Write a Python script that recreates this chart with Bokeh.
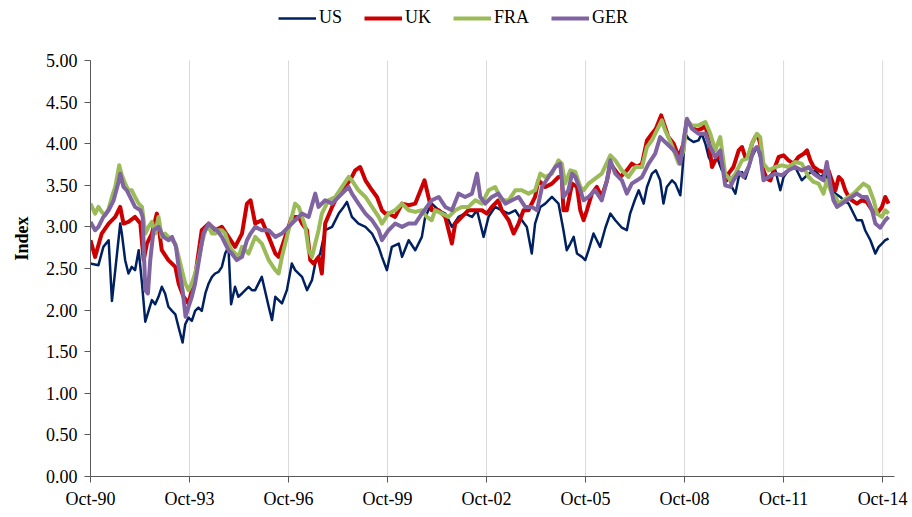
from bokeh.plotting import figure
from bokeh.models import (Range1d, FixedTicker, LinearAxis, NumeralTickFormatter,
                          Legend, LegendItem)
from bokeh.embed import file_html
from bokeh.resources import INLINE

# readings (decimal year, index value) for each series
us_t = [1990.74, 1990.99, 1991.14, 1991.30, 1991.40, 1991.50, 1991.65, 1991.70, 1991.80, 1991.90,
        1992.00, 1992.10, 1992.21, 1992.31, 1992.41, 1992.51, 1992.61, 1992.71, 1992.81, 1992.91,
        1993.01, 1993.11, 1993.22, 1993.32, 1993.42, 1993.54, 1993.62, 1993.72, 1993.82, 1993.92,
        1994.02, 1994.12, 1994.23, 1994.33, 1994.43, 1994.53, 1994.63, 1994.73, 1994.83, 1994.93,
        1995.01, 1995.13, 1995.23, 1995.34, 1995.44, 1995.54, 1995.64, 1995.74, 1995.94, 1996.15,
        1996.25, 1996.35, 1996.55, 1996.70, 1996.85, 1996.95, 1997.16, 1997.31, 1997.46, 1997.56,
        1997.71, 1997.86, 1998.07, 1998.27, 1998.42, 1998.52, 1998.67, 1998.87, 1999.08, 1999.28,
        1999.48, 1999.58, 1999.73, 1999.88, 2000.09, 2000.19, 2000.39, 2000.59, 2000.79, 2000.89,
        2001.09, 2001.30, 2001.50, 2001.70, 2001.90, 2002.10, 2002.31, 2002.46, 2002.56, 2002.66,
        2002.81, 2003.01, 2003.21, 2003.42, 2003.62, 2003.82, 2003.97, 2004.12, 2004.22, 2004.38,
        2004.53, 2004.73, 2004.93, 2005.08, 2005.18, 2005.29, 2005.39, 2005.49, 2005.64, 2005.74,
        2005.84, 2005.99, 2006.09, 2006.19, 2006.35, 2006.50, 2006.65, 2006.85, 2007.00, 2007.10,
        2007.24, 2007.36, 2007.51, 2007.61, 2007.76, 2007.88, 2008.01, 2008.11, 2008.21, 2008.37,
        2008.47, 2008.62, 2008.67, 2008.77, 2008.87, 2009.02, 2009.17, 2009.27, 2009.38, 2009.48,
        2009.58, 2009.73, 2009.88, 2009.98, 2010.08, 2010.18, 2010.29, 2010.39, 2010.49, 2010.59,
        2010.69, 2010.79, 2010.94, 2011.04, 2011.14, 2011.30, 2011.50, 2011.65, 2011.75, 2011.90,
        2012.10, 2012.30, 2012.51, 2012.71, 2012.86, 2013.01, 2013.16, 2013.32, 2013.47, 2013.57,
        2013.72, 2013.82, 2013.97, 2014.12, 2014.22, 2014.38, 2014.53, 2014.63, 2014.73, 2014.83,
        2014.93]
us_v = [2.56, 2.54, 2.76, 2.84, 2.11, 2.48, 3.04, 2.92, 2.60, 2.44,
        2.52, 2.48, 2.72, 2.32, 1.86, 1.99, 2.12, 2.07, 2.16, 2.28,
        2.20, 2.04, 1.99, 1.95, 1.79, 1.61, 1.83, 1.91, 1.87, 1.99,
        2.03, 1.99, 2.20, 2.32, 2.40, 2.44, 2.46, 2.52, 2.68, 2.76,
        2.07, 2.28, 2.16, 2.20, 2.24, 2.28, 2.24, 2.24, 2.40, 2.04,
        1.88, 2.16, 2.08, 2.24, 2.56, 2.48, 2.40, 2.24, 2.36, 2.56,
        2.68, 2.96, 3.00, 3.16, 3.24, 3.30, 3.12, 3.04, 3.00, 2.92,
        2.76, 2.64, 2.48, 2.76, 2.80, 2.64, 2.84, 2.72, 2.88, 3.12,
        3.28, 3.20, 3.16, 3.00, 3.12, 3.16, 3.12, 3.20, 3.04, 2.88,
        3.12, 3.24, 3.20, 3.16, 3.20, 3.08, 3.00, 2.68, 3.04, 3.24,
        3.28, 3.36, 3.28, 2.96, 2.72, 2.80, 2.88, 2.68, 2.64, 2.60,
        2.72, 2.92, 2.84, 2.76, 2.99, 3.16, 3.08, 2.99, 2.96, 3.16,
        3.32, 3.44, 3.28, 3.48, 3.64, 3.68, 3.56, 3.28, 3.48, 3.56,
        3.52, 3.38, 3.60, 4.12, 4.06, 4.02, 4.04, 4.12, 4.00, 3.84,
        3.76, 3.84, 3.68, 3.64, 3.64, 3.48, 3.40, 3.60, 3.66, 3.58,
        3.70, 3.84, 3.96, 3.84, 3.56, 3.60, 3.68, 3.44, 3.60, 3.68,
        3.72, 3.56, 3.64, 3.68, 3.60, 3.64, 3.52, 3.40, 3.36, 3.32,
        3.28, 3.20, 3.08, 3.08, 2.96, 2.84, 2.68, 2.76, 2.80, 2.84,
        2.86]

uk_t = [1990.75, 1990.89, 1991.09, 1991.30, 1991.50, 1991.65, 1991.75, 1991.90, 1992.10, 1992.26,
        1992.36, 1992.46, 1992.61, 1992.76, 1992.91, 1993.11, 1993.32, 1993.42, 1993.57, 1993.72,
        1993.92, 1994.12, 1994.33, 1994.53, 1994.73, 1994.93, 1995.13, 1995.34, 1995.49, 1995.60,
        1995.74, 1995.94, 1996.15, 1996.35, 1996.45, 1996.55, 1996.65, 1996.85, 1997.06, 1997.16,
        1997.31, 1997.41, 1997.51, 1997.66, 1997.76, 1997.86, 1998.07, 1998.27, 1998.47, 1998.67,
        1998.77, 1998.92, 1999.08, 1999.28, 1999.43, 1999.58, 1999.68, 1999.78, 1999.98, 2000.19,
        2000.39, 2000.59, 2000.79, 2000.87, 2000.99, 2001.09, 2001.30, 2001.50, 2001.65, 2001.70,
        2001.80, 2002.00, 2002.20, 2002.41, 2002.61, 2002.76, 2002.91, 2003.11, 2003.21, 2003.42,
        2003.57, 2003.72, 2003.87, 2004.02, 2004.22, 2004.32, 2004.53, 2004.73, 2004.93, 2005.03,
        2005.08, 2005.18, 2005.34, 2005.49, 2005.59, 2005.69, 2005.79, 2005.94, 2006.09, 2006.24,
        2006.40, 2006.50, 2006.65, 2006.80, 2007.00, 2007.15, 2007.31, 2007.46, 2007.61, 2007.76,
        2007.88, 2008.04, 2008.16, 2008.26, 2008.42, 2008.57, 2008.72, 2008.82, 2008.97, 2009.12,
        2009.27, 2009.38, 2009.48, 2009.58, 2009.68, 2009.83, 2009.93, 2010.03, 2010.08, 2010.23,
        2010.39, 2010.49, 2010.59, 2010.69, 2010.79, 2010.89, 2010.97, 2011.04, 2011.14, 2011.24,
        2011.35, 2011.45, 2011.60, 2011.75, 2011.90, 2012.05, 2012.20, 2012.36, 2012.46, 2012.56,
        2012.66, 2012.81, 2012.96, 2013.11, 2013.21, 2013.32, 2013.42, 2013.52, 2013.62, 2013.72,
        2013.82, 2013.97, 2014.12, 2014.27, 2014.43, 2014.58, 2014.73, 2014.83, 2014.93]
uk_v = [2.84, 2.64, 2.92, 3.04, 3.12, 3.24, 3.04, 3.06, 3.12, 3.04,
        2.60, 2.80, 2.92, 3.16, 2.72, 2.60, 2.52, 2.32, 2.16, 2.08,
        2.40, 2.96, 3.04, 2.96, 3.00, 2.88, 2.76, 2.92, 3.28, 3.32,
        3.04, 3.08, 2.88, 2.68, 2.64, 2.76, 2.88, 3.12, 3.12, 3.04,
        2.96, 2.60, 2.56, 2.64, 2.44, 3.04, 3.24, 3.40, 3.48, 3.60,
        3.68, 3.72, 3.56, 3.44, 3.36, 3.20, 3.16, 3.16, 3.12, 3.28,
        3.26, 3.28, 3.48, 3.56, 3.36, 3.20, 3.20, 3.12, 2.88, 2.80,
        3.04, 3.12, 3.20, 3.20, 3.20, 3.16, 3.24, 3.32, 3.20, 3.08,
        2.92, 3.04, 3.20, 3.20, 3.36, 3.56, 3.48, 3.52, 3.60, 3.60,
        3.20, 3.20, 3.52, 3.48, 3.20, 3.08, 3.20, 3.40, 3.48, 3.36,
        3.56, 3.76, 3.68, 3.60, 3.68, 3.76, 3.72, 3.76, 4.04, 4.12,
        4.18, 4.34, 4.20, 4.08, 4.00, 3.84, 4.00, 4.28, 4.20, 4.16,
        4.18, 4.22, 4.04, 3.72, 3.80, 3.88, 3.68, 3.56, 3.64, 3.72,
        3.92, 3.96, 3.84, 3.84, 4.00, 4.08, 4.10, 4.00, 3.68, 3.58,
        3.56, 3.68, 3.84, 3.86, 3.80, 3.76, 3.84, 3.88, 3.92, 3.80,
        3.72, 3.68, 3.66, 3.68, 3.56, 3.44, 3.60, 3.56, 3.44, 3.36,
        3.32, 3.28, 3.32, 3.30, 3.20, 3.16, 3.24, 3.36, 3.28]

fra_t = [1990.75, 1990.89, 1990.99, 1991.09, 1991.20, 1991.30, 1991.40, 1991.50, 1991.62, 1991.70,
         1991.80, 1991.90, 1992.00, 1992.10, 1992.21, 1992.31, 1992.41, 1992.51, 1992.61, 1992.71,
         1992.81, 1992.91, 1993.01, 1993.11, 1993.22, 1993.32, 1993.42, 1993.52, 1993.62, 1993.72,
         1993.82, 1993.92, 1994.02, 1994.12, 1994.23, 1994.33, 1994.43, 1994.53, 1994.63, 1994.73,
         1994.83, 1994.93, 1995.03, 1995.13, 1995.23, 1995.34, 1995.44, 1995.54, 1995.74, 1995.94,
         1996.15, 1996.35, 1996.45, 1996.55, 1996.75, 1996.95, 1997.06, 1997.26, 1997.36, 1997.46,
         1997.56, 1997.66, 1997.76, 1997.96, 1998.17, 1998.37, 1998.57, 1998.67, 1998.87, 1999.08,
         1999.28, 1999.48, 1999.58, 1999.78, 1999.98, 2000.19, 2000.39, 2000.59, 2000.79, 2000.94,
         2001.09, 2001.19, 2001.40, 2001.60, 2001.80, 2002.00, 2002.20, 2002.41, 2002.61, 2002.81,
         2003.01, 2003.21, 2003.42, 2003.62, 2003.82, 2004.02, 2004.22, 2004.38, 2004.53, 2004.73,
         2004.93, 2005.03, 2005.13, 2005.29, 2005.44, 2005.59, 2005.69, 2005.84, 2006.04, 2006.24,
         2006.50, 2006.65, 2006.85, 2007.05, 2007.26, 2007.46, 2007.61, 2007.76, 2007.91, 2008.06,
         2008.16, 2008.26, 2008.42, 2008.57, 2008.72, 2008.82, 2008.97, 2009.17, 2009.38, 2009.53,
         2009.68, 2009.83, 2009.98, 2010.14, 2010.29, 2010.49, 2010.64, 2010.79, 2010.94, 2011.04,
         2011.14, 2011.30, 2011.50, 2011.70, 2011.90, 2012.10, 2012.30, 2012.51, 2012.66, 2012.81,
         2012.96, 2013.06, 2013.21, 2013.32, 2013.42, 2013.57, 2013.72, 2013.87, 2014.02, 2014.17,
         2014.33, 2014.48, 2014.58, 2014.73, 2014.83, 2014.93]
fra_v = [3.28, 3.16, 3.24, 3.18, 3.14, 3.22, 3.36, 3.48, 3.74, 3.62,
         3.52, 3.44, 3.44, 3.36, 3.28, 3.24, 2.92, 3.00, 3.06, 2.92,
         3.12, 2.88, 2.92, 2.88, 2.84, 2.80, 2.64, 2.48, 2.32, 2.24,
         2.32, 2.44, 2.60, 2.80, 2.96, 3.00, 2.92, 2.92, 2.96, 2.96,
         2.92, 2.80, 2.72, 2.68, 2.64, 2.76, 2.72, 2.68, 2.88, 2.80,
         2.60, 2.48, 2.44, 2.64, 2.96, 3.28, 3.24, 3.00, 2.72, 2.64,
         2.80, 2.96, 3.16, 3.32, 3.36, 3.48, 3.60, 3.56, 3.44, 3.36,
         3.24, 3.12, 3.04, 3.16, 3.20, 3.28, 3.20, 3.18, 3.20, 3.12,
         3.08, 3.20, 3.16, 3.12, 3.20, 3.24, 3.24, 3.32, 3.28, 3.44,
         3.48, 3.32, 3.32, 3.44, 3.44, 3.40, 3.44, 3.64, 3.60, 3.64,
         3.80, 3.76, 3.52, 3.68, 3.66, 3.48, 3.44, 3.52, 3.58, 3.64,
         3.86, 3.80, 3.68, 3.60, 3.72, 3.72, 3.96, 4.04, 4.16, 4.28,
         4.16, 4.08, 3.92, 3.76, 3.92, 4.28, 4.22, 4.22, 4.26, 4.12,
         3.92, 4.08, 3.64, 3.56, 3.64, 3.80, 3.82, 4.00, 4.12, 4.08,
         3.76, 3.68, 3.72, 3.74, 3.72, 3.78, 3.76, 3.60, 3.54, 3.52,
         3.40, 3.56, 3.40, 3.36, 3.28, 3.32, 3.36, 3.40, 3.46, 3.52,
         3.48, 3.32, 3.16, 3.12, 3.20, 3.16]

ger_t = [1990.75, 1990.89, 1990.99, 1991.14, 1991.30, 1991.45, 1991.60, 1991.65, 1991.75, 1991.85,
         1991.95, 1992.10, 1992.26, 1992.33, 1992.41, 1992.49, 1992.56, 1992.66, 1992.81, 1992.96,
         1993.11, 1993.22, 1993.34, 1993.42, 1993.54, 1993.63, 1993.72, 1993.82, 1993.92, 1994.02,
         1994.17, 1994.33, 1994.43, 1994.58, 1994.73, 1994.83, 1994.93, 1995.03, 1995.18, 1995.34,
         1995.49, 1995.60, 1995.74, 1995.94, 1996.15, 1996.35, 1996.55, 1996.75, 1996.95, 1997.16,
         1997.36, 1997.56, 1997.66, 1997.86, 1998.07, 1998.27, 1998.47, 1998.57, 1998.67, 1998.87,
         1999.08, 1999.28, 1999.48, 1999.58, 1999.78, 1999.98, 2000.19, 2000.39, 2000.59, 2000.79,
         2000.94, 2001.09, 2001.30, 2001.50, 2001.70, 2001.90, 2002.10, 2002.31, 2002.46, 2002.56,
         2002.71, 2002.91, 2003.11, 2003.32, 2003.52, 2003.72, 2003.92, 2004.12, 2004.28, 2004.43,
         2004.63, 2004.83, 2004.98, 2005.08, 2005.23, 2005.34, 2005.44, 2005.59, 2005.69, 2005.84,
         2006.04, 2006.24, 2006.40, 2006.50, 2006.65, 2006.85, 2007.00, 2007.15, 2007.31, 2007.46,
         2007.66, 2007.86, 2008.01, 2008.16, 2008.32, 2008.47, 2008.62, 2008.72, 2008.82, 2008.97,
         2009.17, 2009.38, 2009.53, 2009.68, 2009.83, 2009.98, 2010.14, 2010.23, 2010.39, 2010.54,
         2010.69, 2010.84, 2010.94, 2011.04, 2011.14, 2011.30, 2011.50, 2011.70, 2011.90, 2012.10,
         2012.30, 2012.51, 2012.66, 2012.81, 2012.96, 2013.06, 2013.16, 2013.26, 2013.37, 2013.52,
         2013.67, 2013.82, 2013.97, 2014.12, 2014.27, 2014.43, 2014.53, 2014.68, 2014.83, 2014.93]
ger_v = [3.06, 2.96, 3.00, 3.12, 3.20, 3.32, 3.54, 3.64, 3.48, 3.44,
         3.36, 3.24, 3.20, 3.12, 2.24, 2.20, 2.60, 2.96, 3.00, 2.88,
         2.84, 2.88, 2.76, 2.52, 2.24, 1.92, 2.04, 2.16, 2.32, 2.56,
         2.92, 3.04, 3.00, 2.96, 2.88, 2.80, 2.72, 2.68, 2.60, 2.64,
         2.84, 2.92, 3.00, 2.96, 2.96, 2.88, 2.92, 3.00, 3.08, 3.16,
         3.12, 3.40, 3.24, 3.32, 3.28, 3.36, 3.44, 3.48, 3.40, 3.28,
         3.16, 3.08, 2.96, 2.84, 2.96, 3.04, 3.00, 3.04, 3.04, 3.16,
         3.24, 3.32, 3.36, 3.24, 3.20, 3.40, 3.36, 3.40, 3.64, 3.36,
         3.28, 3.36, 3.40, 3.28, 3.32, 3.36, 3.24, 3.24, 3.20, 3.48,
         3.60, 3.72, 3.76, 3.36, 3.44, 3.64, 3.60, 3.44, 3.32, 3.36,
         3.44, 3.32, 3.56, 3.80, 3.64, 3.56, 3.40, 3.52, 3.56, 3.60,
         3.76, 3.88, 4.08, 4.02, 3.96, 3.90, 3.76, 4.04, 4.30, 4.18,
         4.12, 4.12, 3.96, 3.84, 3.92, 3.50, 3.48, 3.56, 3.66, 3.60,
         3.72, 3.92, 3.96, 3.88, 3.56, 3.60, 3.64, 3.62, 3.68, 3.72,
         3.68, 3.72, 3.64, 3.60, 3.56, 3.78, 3.52, 3.32, 3.24, 3.28,
         3.32, 3.36, 3.40, 3.36, 3.36, 3.20, 3.04, 2.99, 3.08, 3.12]

series_names = ["US", "UK", "FRA", "GER"]
series_t = [us_t, uk_t, fra_t, ger_t]
series_v = [us_v, uk_v, fra_v, ger_v]
series_colors = ["#002060", "#CC0000", "#9BBB59", "#8064A2"]
series_widths = [2.5, 4, 4, 4]

tick_pos = [1990.75, 1993.75, 1996.75, 1999.75, 2002.75, 2005.75, 2008.75, 2011.75, 2014.75]
tick_labels = ["Oct-90", "Oct-93", "Oct-96", "Oct-99", "Oct-02",
               "Oct-05", "Oct-08", "Oct-11", "Oct-14"]
y_ticks = [0, 0.5, 1, 1.5, 2, 2.5, 3, 3.5, 4, 4.5, 5]

FONT = "Liberation Serif"
# frame reaches the top of the figure so the legend (drawn inside it) stays visible;
# the value axis itself is bounded to 0..5
y_top = y_ticks[-1] * 476 / 416

p = figure(width=910, height=515, output_backend="svg", toolbar_location=None,
           x_range=Range1d(tick_pos[0], 2015.11), y_range=Range1d(0, y_top),
           min_border_left=90, min_border_right=16, min_border_top=0, min_border_bottom=39)
p.outline_line_color = None
p.background_fill_color = "white"
p.xgrid.visible = False
p.ygrid.visible = False

p.segment(x0=tick_pos, y0=[y_ticks[0]] * len(tick_pos), x1=tick_pos,
          y1=[y_ticks[-1]] * len(tick_pos),
          line_color="#d9d9d9", line_width=1, level="underlay")

renderers = []
for t, v, col, w in zip(series_t, series_v, series_colors, series_widths):
    r = p.line(t, v, line_color=col, line_width=w, line_join="round")
    renderers.append(r)

p.xaxis.ticker = FixedTicker(ticks=tick_pos)
p.xaxis.major_label_overrides = {tp: lab for tp, lab in zip(tick_pos, tick_labels)}
p.yaxis.ticker = FixedTicker(ticks=y_ticks)
p.yaxis.formatter = NumeralTickFormatter(format="0.00")
p.yaxis.bounds = (y_ticks[0], y_ticks[-1])

for ax in (p.xaxis, p.yaxis):
    ax.axis_line_color = "#595959"
    ax.major_tick_line_color = "#595959"
    ax.major_tick_out = 6
    ax.major_tick_in = 0
    ax.minor_tick_line_color = None
    ax.major_label_text_font = FONT
    ax.major_label_text_font_size = "18px"
    ax.major_label_text_color = "black"

p.xaxis.major_label_standoff = 6
p.yaxis.major_label_standoff = 7

# bare axis carrying only the axis title, centred a little below mid-axis
title_axis = LinearAxis(ticker=FixedTicker(ticks=[]), bounds=(0, 4.45),
                        axis_line_color=None, major_tick_line_color=None,
                        minor_tick_line_color=None, major_label_text_alpha=0,
                        axis_label="Index", axis_label_text_font=FONT,
                        axis_label_text_font_size="18px", axis_label_text_font_style="bold",
                        axis_label_text_color="black", axis_label_standoff=11)
p.add_layout(title_axis, "left")

legend = Legend(items=[LegendItem(label=n, renderers=[r]) for n, r in zip(series_names, renderers)],
                orientation="horizontal", location=(188, 448),
                padding=0, margin=0, spacing=22, glyph_width=38, glyph_height=18,
                label_standoff=3, label_height=20,
                label_text_font=FONT, label_text_font_size="18px", label_text_color="black",
                border_line_color=None, background_fill_alpha=0)
p.add_layout(legend)

open("out.html", "w").write(file_html(p, INLINE))
